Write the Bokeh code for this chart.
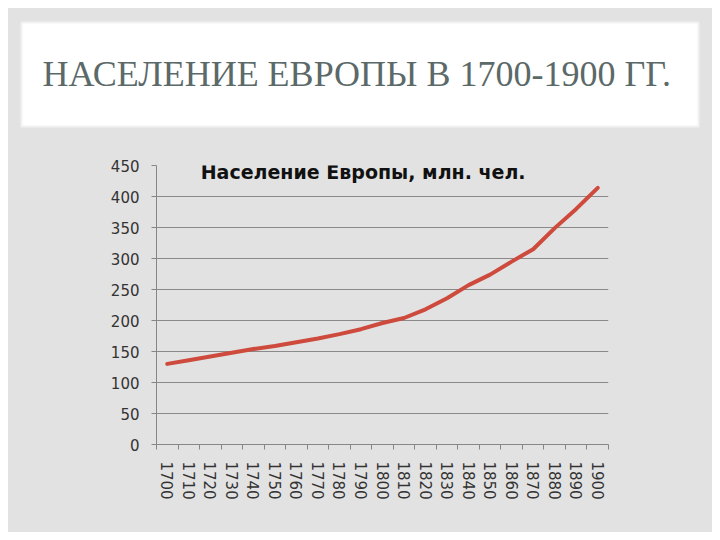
from bokeh.plotting import figure
from bokeh.layouts import column
from bokeh.models import Range1d, FixedTicker, Label
from bokeh.embed import file_html
from bokeh.resources import INLINE

# ---- data ----
years = ["1700", "1710", "1720", "1730", "1740", "1750", "1760", "1770", "1780", "1790",
         "1800", "1810", "1820", "1830", "1840", "1850", "1860", "1870", "1880", "1890", "1900"]
population = [130, 136, 142, 148, 154, 159, 165, 171, 178, 186,
              196, 204, 218, 236, 257, 274, 295, 315, 349, 380, 414]
y_ticks = [0, 50, 100, 150, 200, 250, 300, 350, 400, 450]
slide_title = "НАСЕЛЕНИЕ ЕВРОПЫ В 1700-1900 ГГ."
chart_title = "Население Европы, млн. чел."

PANEL = "#e2e2e2"
W = 704

# ---- top: slide title ----
top_h = 140
top = figure(width=W, height=top_h, output_backend="svg", toolbar_location=None,
             x_range=Range1d(0, W), y_range=Range1d(0, top_h),
             x_axis_type=None, y_axis_type=None, min_border=0,
             background_fill_color=PANEL, border_fill_color=PANEL, outline_line_color=None)
top.frame_align = False
top.grid.visible = False
top.quad(left=13, right=690, top=top_h - 14, bottom=top_h - 118,
         fill_color="white", line_color="#f2f2f2", line_width=2)
top.add_layout(Label(x=34, y=top_h - 65, text=slide_title, text_font="Liberation Serif",
                     text_font_size="36px", text_color="#5b6968", text_align="left",
                     text_baseline="middle"))

# ---- chart ----
idx = list(range(len(years)))
p = figure(width=W, height=384, output_backend="svg", toolbar_location=None,
           x_range=Range1d(-0.5, len(years) - 0.5), y_range=Range1d(0, 450),
           min_border_left=148, min_border_right=104, min_border_top=17, min_border_bottom=88,
           background_fill_color=PANEL, border_fill_color=PANEL, outline_line_color=None)
p.frame_align = False

p.line(idx, population, line_color="#cd4a3c", line_width=4, line_join="round", line_cap="round")

xa = p.xaxis[0]
xa.ticker = FixedTicker(ticks=idx, minor_ticks=[i - 0.5 for i in idx] + [idx[-1] + 0.5])
xa.major_label_overrides = {i: y for i, y in zip(idx, years)}
xa.major_label_orientation = "vertical"
xa.major_tick_out = 0
xa.major_tick_in = 0
xa.minor_tick_out = 5
xa.minor_tick_in = 0
xa.minor_tick_line_color = "#868686"
xa.axis_line_color = "#868686"
xa.major_label_standoff = 12
xa.major_label_text_font = "DejaVu Sans"
xa.major_label_text_font_size = "15px"
xa.major_label_text_color = "#333333"

ya = p.yaxis[0]
ya.ticker = FixedTicker(ticks=y_ticks)
ya.major_tick_out = 5
ya.major_tick_in = 0
ya.minor_tick_line_color = None
ya.major_tick_line_color = "#868686"
ya.axis_line_color = "#868686"
ya.major_label_standoff = 12
ya.major_label_text_font = "DejaVu Sans"
ya.major_label_text_font_size = "15px"
ya.major_label_text_color = "#333333"

p.xgrid.visible = False
p.ygrid.grid_line_color = "#8a8a8a"
p.ygrid.grid_line_width = 1
p.ygrid.ticker = FixedTicker(ticks=y_ticks)

p.add_layout(Label(x=9.1, y=450, y_offset=-6, text=chart_title, text_font="DejaVu Sans",
                   text_font_style="bold", text_font_size="19px", text_color="#111111",
                   text_align="center", text_baseline="middle"))

layout = column(top, p, spacing=0)
layout.margin = (8, 8, 8, 8)
layout.styles = {"background-color": PANEL}
open("out.html", "w").write(file_html(layout, INLINE))
